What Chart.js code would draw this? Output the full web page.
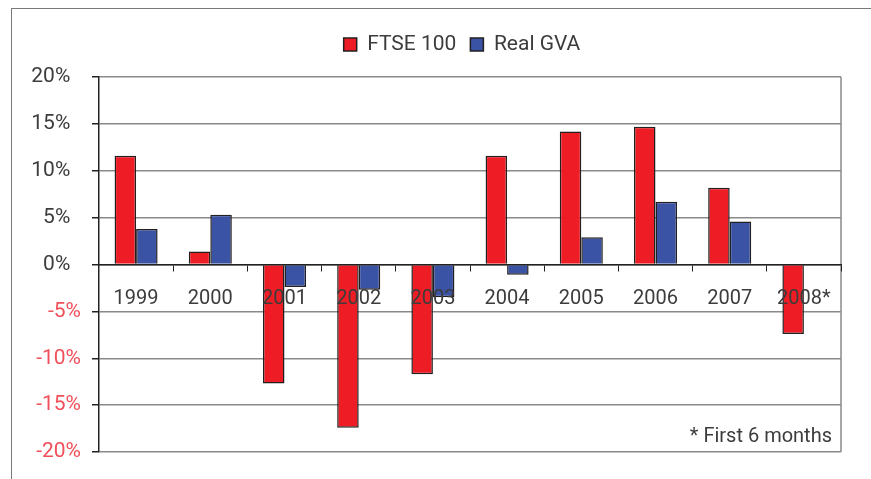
<!DOCTYPE html>
<html>
<head>
<meta charset="utf-8">
<script src="https://cdn.jsdelivr.net/npm/chart.js@4/dist/chart.umd.min.js"></script>
<style>
  html, body { margin: 0; padding: 0; background: #fff; }
  #wrap { position: relative; width: 871px; height: 479px; overflow: hidden; }
  #frame { position: absolute; left: 11px; top: 8px; width: 860px; height: 480px;
           border-left: 1.5px solid #7a7a7a; border-top: 1.5px solid #7a7a7a; }
  #chart { position: absolute; left: 0; top: 0; }
  #note { position: absolute; right: 39px; top: 425px; font: 20px Roboto, sans-serif;
          line-height: 20px; color: #3c3c3c; white-space: nowrap; }
</style>
</head>
<body>
<div id="wrap">
  <div id="frame"></div>
  <canvas id="chart" width="871" height="479"></canvas>
  <div id="note">* First 6 months</div>
</div>
<script>
// values, in percent
var years = ["1999", "2000", "2001", "2002", "2003", "2004", "2005", "2006", "2007", "2008*"];
var ftse = [11.6, 1.4, -12.7, -17.4, -11.7, 11.6, 14.2, 14.7, 8.2, -7.4];
var gva = [3.8, 5.3, -2.4, -2.7, -3.5, -1.1, 2.9, 6.7, 4.6, null];
var yTicks = [-20, -15, -10, -5, 0, 5, 10, 15, 20];

var dark = "#3c3c3c";
var negRed = "#f0505a";

// push the plot area down below the legend, and centre the legend a bit right
var legendFix = {
    id: "legendFix",
    beforeInit: function(chart) {
        var fit = chart.legend.fit;
        chart.legend.fit = function() {
            fit.bind(chart.legend)();
            this.height += 12;
        };
    },
    afterLayout: function(chart) {
        chart.legend.left = 83;
    }
};

// gray right edge of the plot box
var plotEdge = {
    id: "plotEdge",
    beforeDatasetsDraw: function(chart) {
        var a = chart.chartArea, ctx = chart.ctx;
        ctx.save();
        ctx.strokeStyle = "#8a8a8a";
        ctx.lineWidth = 1.5;
        ctx.beginPath();
        ctx.moveTo(a.right, a.top);
        ctx.lineTo(a.right, a.bottom);
        ctx.stroke();
        ctx.restore();
    }
};

var ctx = document.getElementById("chart");
new Chart(ctx, {
    type: "bar",
    data: {
        labels: years,
        datasets: [
            {
                label: "FTSE 100",
                data: ftse,
                backgroundColor: "#ee1d25",
                borderColor: "#231f20",
                borderWidth: 1.5
            },
            {
                label: "Real GVA",
                data: gva,
                backgroundColor: "#3a53a4",
                borderColor: "#231f20",
                borderWidth: 1.5
            }
        ]
    },
    options: {
        responsive: false,
        animation: false,
        layout: { padding: { left: 12, right: 30, top: 20, bottom: 27 } },
        datasets: { bar: { categoryPercentage: 0.58, barPercentage: 1 } },
        plugins: {
            legend: {
                position: "top",
                labels: {
                    boxWidth: 13,
                    boxHeight: 13,
                    padding: 14,
                    color: dark,
                    font: { family: "Roboto", size: 21 }
                }
            },
            tooltip: { enabled: false }
        },
        scales: {
            x: {
                position: { y: 0 },
                grid: {
                    display: true,
                    drawOnChartArea: false,
                    drawTicks: true,
                    tickLength: 6,
                    tickColor: "#222",
                    offset: true,
                    z: 1
                },
                border: { display: true, color: "#222", width: 1.5, z: 1 },
                ticks: {
                    z: 1,
                    padding: 16,
                    maxRotation: 0,
                    color: dark,
                    font: { family: "Roboto", size: 20 }
                }
            },
            y: {
                min: -20,
                max: 20,
                afterFit: function(scale) { scale.width = 87; },
                afterBuildTicks: function(scale) {
                    scale.ticks = yTicks.map(function(v) { return { value: v }; });
                },
                grid: {
                    color: "#8a8a8a",
                    lineWidth: 1.5,
                    tickColor: "#222",
                    tickLength: 7
                },
                border: { display: true, color: "#222", width: 1.5 },
                ticks: {
                    padding: 11,
                    color: function(c) { return c.tick.value < 0 ? negRed : dark; },
                    font: { family: "Roboto", size: 21 },
                    callback: function(v) { return v + "%" + (v >= 0 ? "\u2002" : ""); }
                }
            }
        }
    },
    plugins: [legendFix, plotEdge]
});
</script>
</body>
</html>
